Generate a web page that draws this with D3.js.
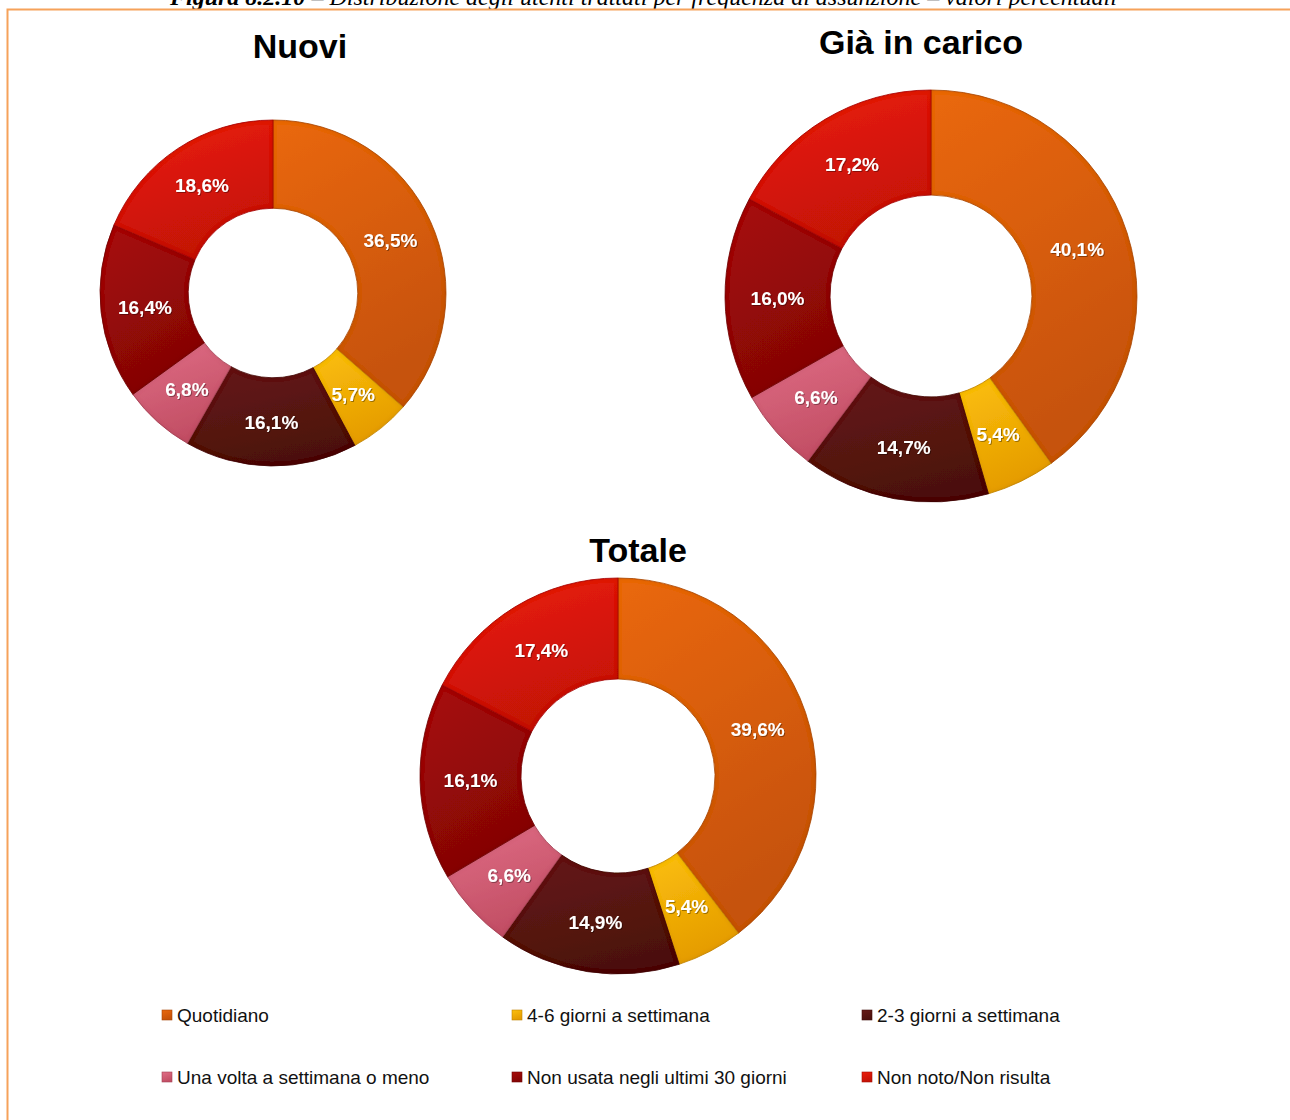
<!DOCTYPE html>
<html>
<head>
<meta charset="utf-8">
<script src="https://cdn.jsdelivr.net/npm/d3@7"></script>
<style>
  html, body { margin: 0; padding: 0; background: #ffffff; }
  svg { display: block; }
</style>
</head>
<body>
<svg id="chart" width="1290" height="1120"></svg>
<script>
// Frequency categories (legend order, clockwise from 12 o'clock)
const categories = [
  "Quotidiano",
  "4-6 giorni a settimana",
  "2-3 giorni a settimana",
  "Una volta a settimana o meno",
  "Non usata negli ultimi 30 giorni",
  "Non noto/Non risulta"
];

// Percent values per group
const valuesNuovi   = [36.5, 5.7, 16.1, 6.8, 16.4, 18.6];
const valuesGia     = [40.1, 5.4, 14.7, 6.6, 16.0, 17.2];
const valuesTotale  = [39.6, 5.4, 14.9, 6.6, 16.1, 17.4];

const groupTitles = ["Nuovi", "Già in carico", "Totale"];

const captionLead = "Figura 8.2.10";
const captionRest = " – Distribuzione degli utenti trattati per frequenza di assunzione – valori percentuali";

// Slice colours: [light, dark]
const palette = [
  ["#ea680c", "#c65208"],
  ["#fcc00c", "#e59c00"],
  ["#661a16", "#4c110e"],
  ["#e06e86", "#c24e64"],
  ["#a80c0a", "#840505"],
  ["#ec1e0a", "#c41206"]
];

const svg = d3.select("#chart");
const defs = svg.append("defs");

palette.forEach((c, i) => {
  const g = defs.append("linearGradient")
    .attr("id", "grad" + i)
    .attr("x1", 0).attr("y1", 0).attr("x2", 0.35).attr("y2", 1);
  g.append("stop").attr("offset", "0%").attr("stop-color", c[0]);
  g.append("stop").attr("offset", "100%").attr("stop-color", c[1]);
});

// darkened rim along slice edges for a bevelled look
const bevel = defs.append("filter").attr("id", "bevel")
  .attr("x", "-5%").attr("y", "-5%").attr("width", "110%").attr("height", "110%");
bevel.append("feGaussianBlur").attr("in", "SourceAlpha").attr("stdDeviation", 2).attr("result", "blur");
bevel.append("feComposite").attr("in", "SourceAlpha").attr("in2", "blur")
  .attr("operator", "arithmetic").attr("k1", 0).attr("k2", 1).attr("k3", -1).attr("k4", 0)
  .attr("result", "rim");
bevel.append("feFlood").attr("flood-color", "#000").attr("flood-opacity", 0.22).attr("result", "dark");
bevel.append("feComposite").attr("in", "dark").attr("in2", "rim").attr("operator", "in").attr("result", "rimDark");
bevel.append("feMerge").selectAll("feMergeNode")
  .data(["SourceGraphic", "rimDark"]).join("feMergeNode").attr("in", d => d);

const labelShadow = defs.append("filter").attr("id", "lblShadow")
  .attr("x", "-20%").attr("y", "-40%").attr("width", "140%").attr("height", "180%");
labelShadow.append("feDropShadow").attr("dx", 1).attr("dy", 1)
  .attr("stdDeviation", 0.7).attr("flood-color", "#000").attr("flood-opacity", 0.35);

// Caption sitting above the frame
const cap = svg.append("text")
  .attr("x", 170).attr("y", 5)
  .attr("font-family", "Liberation Serif, serif")
  .attr("font-style", "italic")
  .attr("font-size", 24)
  .attr("fill", "#000");
cap.append("tspan").attr("font-weight", "bold").text(captionLead);
cap.append("tspan").text(captionRest);

// Frame
svg.append("rect")
  .attr("x", 7.5).attr("y", 9.5)
  .attr("width", 1300).attr("height", 1130)
  .attr("fill", "#ffffff")
  .attr("stroke", "#f6a25a")
  .attr("stroke-width", 2);

const pie = d3.pie().sort(null).value(d => d);

const donuts = [
  { values: valuesNuovi,  title: groupTitles[0], cx: 273, cy: 293, r: 173, titleX: 300, titleY: 58 },
  { values: valuesGia,    title: groupTitles[1], cx: 931, cy: 296, r: 206, titleX: 921, titleY: 54 },
  { values: valuesTotale, title: groupTitles[2], cx: 618, cy: 776, r: 198, titleX: 638, titleY: 562 }
];

const fmt = v => d3.format(".1f")(v).replace(".", ",") + "%";

donuts.forEach(dn => {
  const inner = dn.r * 0.49;
  const arc = d3.arc().innerRadius(inner).outerRadius(dn.r);
  const g = svg.append("g").attr("transform", `translate(${dn.cx},${dn.cy})`);
  const arcs = pie(dn.values);

  g.selectAll("path.slice")
    .data(arcs)
    .join("path")
    .attr("class", "slice")
    .attr("d", arc)
    .attr("fill", (d, i) => `url(#grad${i})`)
    .attr("stroke", (d, i) => d3.color(palette[i][1]).darker(0.4))
    .attr("stroke-width", 0.8)
    .attr("filter", "url(#bevel)");

  g.selectAll("text.lbl")
    .data(arcs)
    .join("text")
    .attr("class", "lbl")
    .attr("transform", d => `translate(${arc.centroid(d)})`)
    .attr("text-anchor", "middle")
    .attr("dy", "0.36em")
    .attr("font-family", "Liberation Sans, Arial, sans-serif")
    .attr("font-weight", "bold")
    .attr("font-size", 19)
    .attr("fill", "#ffffff")
    .attr("filter", "url(#lblShadow)")
    .text(d => fmt(d.data));

  svg.append("text")
    .attr("x", dn.titleX).attr("y", dn.titleY)
    .attr("text-anchor", "middle")
    .attr("font-family", "Liberation Sans, Arial, sans-serif")
    .attr("font-weight", "bold")
    .attr("font-size", 34)
    .attr("fill", "#000")
    .text(dn.title);
});

// Legend: 3 columns x 2 rows
const legendCol = d3.scaleOrdinal().domain([0, 1, 2]).range([162, 512, 862]);
const legendRow = d3.scaleOrdinal().domain([0, 1]).range([1015, 1077]);

const leg = svg.append("g").selectAll("g")
  .data(categories)
  .join("g")
  .attr("transform", (d, i) => `translate(${legendCol(i % 3)},${legendRow(Math.floor(i / 3))})`);

leg.append("rect")
  .attr("x", 0).attr("y", -5)
  .attr("width", 10).attr("height", 10)
  .attr("fill", (d, i) => `url(#grad${i})`)
  .attr("stroke", (d, i) => d3.color(palette[i][1]).darker(0.5))
  .attr("stroke-width", 0.6);

leg.append("text")
  .attr("x", 15).attr("y", 0)
  .attr("dy", "0.36em")
  .attr("font-family", "Liberation Sans, Arial, sans-serif")
  .attr("font-size", 19)
  .attr("fill", "#111")
  .text(d => d);
</script>
</body>
</html>
